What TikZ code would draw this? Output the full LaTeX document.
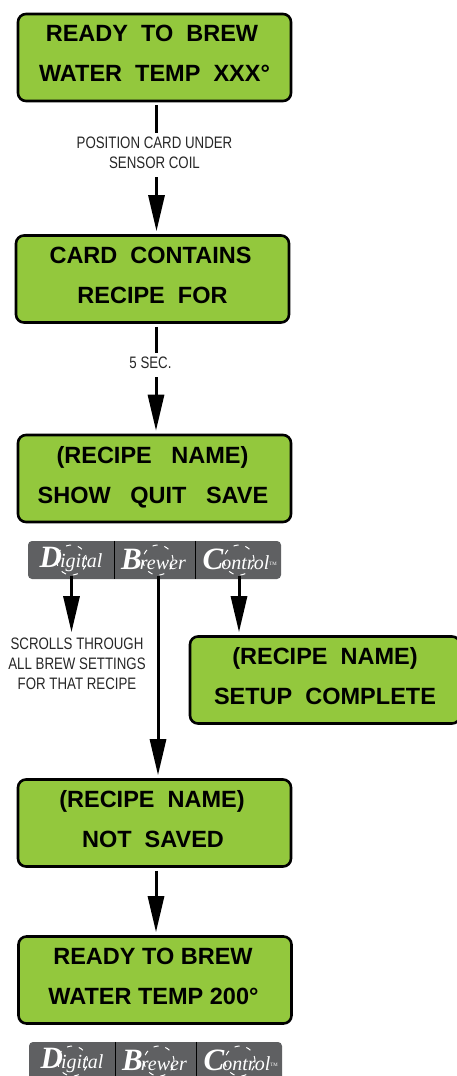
\documentclass[tikz,border=0pt]{standalone}
\usepackage{fontspec}
\setmainfont{Liberation Sans}
\newfontfamily\notefont[FakeStretch=0.8]{Liberation Sans}
\newfontfamily\logofont{Liberation Serif}
\usetikzlibrary{positioning,arrows.meta}
\definecolor{lcdgreen}{HTML}{93C83D}
\definecolor{panelgray}{HTML}{5F6062}
\newcommand{\logoword}[2]{{\fontsize{31}{31}\selectfont\bfseries\itshape #1}\kern-2pt{\fontsize{20}{20}\selectfont\itshape #2}}

\begin{document}
\begin{tikzpicture}[x=1pt,y=-1pt,
      lcd/.style={draw=black,line width=2.6pt,fill=lcdgreen,rounded corners=8pt,
        minimum width=273pt,minimum height=87pt,inner sep=0pt,align=center,
        text depth=8pt,font=\fontsize{23.5}{40}\selectfont\bfseries},
      note/.style={align=center,inner sep=1pt,
        font=\notefont\fontsize{16.6}{20}\selectfont,text=black!85},
      link/.style={line width=3pt,shorten >=3pt,shorten <=3pt},
      linkhead/.style={link,-{Triangle[width=16pt,length=36pt]}},
      panel/.style={fill=panelgray,rounded corners=4pt,minimum width=253pt,
        minimum height=38pt,inner sep=0pt},
      logotext/.style={text=white,inner sep=0pt,font=\logofont},
      dial/.style={circle,draw=white,dash pattern=on 5pt off 7pt,line width=1pt,
        minimum size=30pt,inner sep=0pt}]

      \useasboundingbox (0,0) rectangle (457,1076);

      \node[lcd] (ready) at (154.5,57.5)
        {READY\ \ TO\ \ BREW\hspace*{5pt}\\WATER\ \ TEMP\ \ XXX°};
      \node[lcd] (card) at (152.5,279)
        {CARD\ \ CONTAINS\hspace*{4pt}\\RECIPE\ \ FOR};
      \node[lcd] (recipe) at (154.5,478.5)
        {(RECIPE\ \ \ NAME)\hspace*{4pt}\\SHOW\ \ \ QUIT\ \ \ SAVE\hspace*{3pt}};
      \node[lcd,minimum width=270pt] (setup) at (325,680)
        {(RECIPE\ \ NAME)\\SETUP\ \ COMPLETE};
      \node[lcd] (notsaved) at (154.5,823)
        {(RECIPE\ \ NAME)\hspace*{5pt}\\NOT\ \ SAVED\hspace*{3pt}};
      \node[lcd] (brew) at (155,980)
        {READY TO BREW\hspace*{4pt}\\WATER TEMP 200°\hspace*{3pt}};

      \node[note] (position) at (154.5,153) {POSITION CARD UNDER\\SENSOR COIL};
      \node[note] (fivesec) at (150.5,363) {5 SEC.};
      \node[note] (scrolls) at (77,664) {SCROLLS THROUGH\\ALL BREW SETTINGS\\FOR THAT RECIPE};

      \coordinate (lane-A) at (156.5,0);
      \coordinate (lane-B) at (156,0);

      \node[panel] (panel-A) at (154.5,560) {};
      \node[panel] (panel-B) at (155.5,1061) {};

      \foreach \p in {A,B} {
        \draw[line width=1pt] ([xshift=-40.5pt]panel-\p.north) -- ([xshift=-40.5pt]panel-\p.south);
        \draw[line width=1pt] ([xshift=41pt]panel-\p.north) -- ([xshift=41pt]panel-\p.south);
        \node[dial] (digital-\p) at ([xshift=-83pt]panel-\p.center) {};
        \node[dial] (brewer-\p) at ([xshift=3.5pt]panel-\p.center) {};
        \node[dial] (control-\p) at ([xshift=84.5pt]panel-\p.center) {};
        \node[logotext] at ([xshift=-83.5pt,yshift=1pt]panel-\p.center) {\logoword{D}{igital}};
        \node[logotext] at ([xshift=-1pt,yshift=1pt]panel-\p.center) {\logoword{B}{rewer}};
        \node[logotext] at ([xshift=85.5pt,yshift=1pt]panel-\p.center) {\logoword{C}{ontrol}\textsuperscript{\tiny TM}};
      }

      \draw[link] (ready.south -| lane-A) -- (position.north -| lane-A);
      \draw[linkhead,shorten <=7pt] (position.south -| lane-A) -- (card.north -| lane-A);
      \draw[link] (card.south -| lane-B) -- (fivesec.north -| lane-B);
      \draw[linkhead,shorten <=7pt] (fivesec.south -| lane-B) -- (recipe.north -| lane-B);
      \draw[linkhead,shorten <=0pt] (digital-A.south) -- (digital-A.south |- setup.north);
      \draw[linkhead,shorten <=0pt] (control-A.south) -- (control-A.south |- setup.north);
      \draw[linkhead,shorten <=0pt] (brewer-A.south) -- (brewer-A.south |- notsaved.north);
      \draw[linkhead] (notsaved.south -| lane-B) -- (brew.north -| lane-B);
\end{tikzpicture}
\end{document}
